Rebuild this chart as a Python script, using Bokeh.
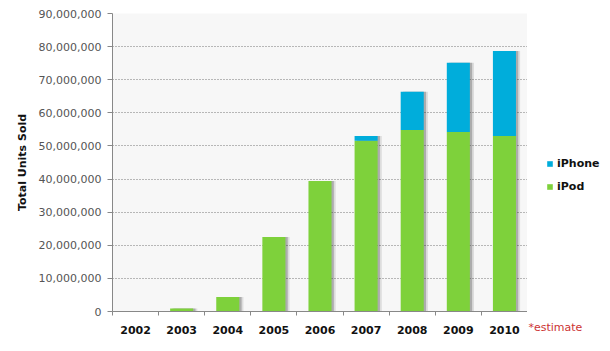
import numpy as np
from bokeh.plotting import figure
from bokeh.layouts import row
from bokeh.models import (ColumnDataSource, FixedTicker, NumeralTickFormatter,
                          Legend, LegendItem, Range1d)
from bokeh.embed import file_html
from bokeh.resources import INLINE

years = ["2002", "2003", "2004", "2005", "2006", "2007", "2008", "2009", "2010"]
ipod = [0, 940000, 4400000, 22500000, 39400000, 51600000, 54800000, 54200000, 53000000]
iphone = [0, 0, 0, 0, 0, 1400000, 11600000, 20900000, 25700000]
y_ticks = [0, 10000000, 20000000, 30000000, 40000000, 50000000, 60000000, 70000000, 80000000, 90000000]
series_names = ["iPhone", "iPod"]
note = "*estimate"

GREEN = "#7ED13B"
BLUE = "#00ADDB"

xc = np.arange(len(years)) + 0.5
total = [a + b for a, b in zip(ipod, iphone)]
src = ColumnDataSource(dict(x=xc, xs1=xc + 0.05, xs2=xc + 0.09, ipod=ipod, total=total))

p = figure(width=527, height=351, output_backend="svg", toolbar_location=None,
           x_range=Range1d(0, len(years)), y_range=Range1d(0, y_ticks[-1]),
           min_border_left=112, min_border_right=0, min_border_top=13, min_border_bottom=40)
p.border_fill_color = "white"
p.background_fill_color = "#F7F7F7"
p.outline_line_color = None

# shadows
p.vbar(x="xs2", top="total", width=0.5, source=src, fill_color="#000000", fill_alpha=0.10, line_color=None)
p.vbar(x="xs1", top="total", width=0.5, source=src, fill_color="#000000", fill_alpha=0.22, line_color=None)

r_ipod = p.vbar(x="x", top="ipod", width=0.5, source=src, fill_color=GREEN, line_color=None)
r_iphone = p.vbar(x="x", bottom="ipod", top="total", width=0.5, source=src, fill_color=BLUE, line_color=None)

# axes
xa = p.xaxis[0]
xa.ticker = FixedTicker(ticks=list(xc), minor_ticks=list(range(len(years) + 1)))
xa.major_label_overrides = {float(v): y for v, y in zip(xc, years)}
xa.major_tick_line_color = None
xa.major_tick_out = 0
xa.minor_tick_out = 4
xa.minor_tick_in = 0
xa.minor_tick_line_color = "#888888"
xa.axis_line_color = "#888888"
xa.major_label_text_font = "DejaVu Sans"
xa.major_label_text_font_size = "11px"
xa.major_label_text_font_style = "bold"
xa.major_label_text_color = "#111111"
xa.major_label_standoff = 10

ya = p.yaxis[0]
ya.ticker = FixedTicker(ticks=y_ticks)
ya.formatter = NumeralTickFormatter(format="0,0")
ya.major_tick_out = 5
ya.major_tick_in = 0
ya.minor_tick_line_color = None
ya.major_tick_line_color = "#888888"
ya.axis_line_color = "#888888"
ya.major_label_text_font = "DejaVu Sans"
ya.major_label_text_font_size = "11px"
ya.major_label_text_color = "#555555"
ya.major_label_standoff = 6
ya.axis_label = "Total Units Sold"
ya.axis_label_text_font = "DejaVu Sans"
ya.axis_label_text_font_size = "11px"
ya.axis_label_text_font_style = "bold"
ya.axis_label_text_color = "#111111"
ya.axis_label_standoff = 7

p.xgrid.grid_line_color = None
p.ygrid.grid_line_color = "#777777"
p.ygrid.grid_line_dash = "1 2"
p.ygrid.grid_line_width = 1

# side figure holding the legend and the note
p2 = figure(width=83, height=351, output_backend="svg", toolbar_location=None,
            x_range=Range1d(0, 83), y_range=Range1d(0, 1),
            x_axis_location="below", y_axis_location=None, min_border=0)
p2.grid.visible = False
p2.outline_line_color = None
p2.background_fill_color = "white"
p2.border_fill_color = "white"
# hidden proxies of the two series, used only for the legend swatches
l_iphone = p2.vbar(x="x", bottom="ipod", top="total", width=0.5, source=src,
                   fill_color=BLUE, line_color=None, visible=False)
l_ipod = p2.vbar(x="x", top="ipod", width=0.5, source=src,
                 fill_color=GREEN, line_color=None, visible=False)

legend = Legend(items=[LegendItem(label=series_names[0], renderers=[l_iphone]),
                       LegendItem(label=series_names[1], renderers=[l_ipod])],
                location=(19, 118))
legend.background_fill_alpha = 0
legend.border_line_color = None
legend.inactive_fill_alpha = 0
legend.glyph_width = 7
legend.glyph_height = 7
legend.label_standoff = 4
legend.spacing = 10
legend.padding = 2
legend.margin = 0
legend.click_policy = "none"
legend.label_text_font = "DejaVu Sans"
legend.label_text_font_size = "11px"
legend.label_text_font_style = "bold"
legend.label_text_color = "#111111"
p2.add_layout(legend, "center")

xa2 = p2.xaxis[0]
xa2.ticker = FixedTicker(ticks=[26])
xa2.major_label_overrides = {26: note}
xa2.axis_line_color = None
xa2.major_tick_line_color = None
xa2.minor_tick_line_color = None
xa2.major_tick_out = 0
xa2.major_label_standoff = 9
xa2.major_label_text_font = "DejaVu Sans"
xa2.major_label_text_font_size = "11px"
xa2.major_label_text_color = "#CC3333"

layout = row(p, p2, spacing=0)
open("out.html", "w").write(file_html(layout, INLINE))
